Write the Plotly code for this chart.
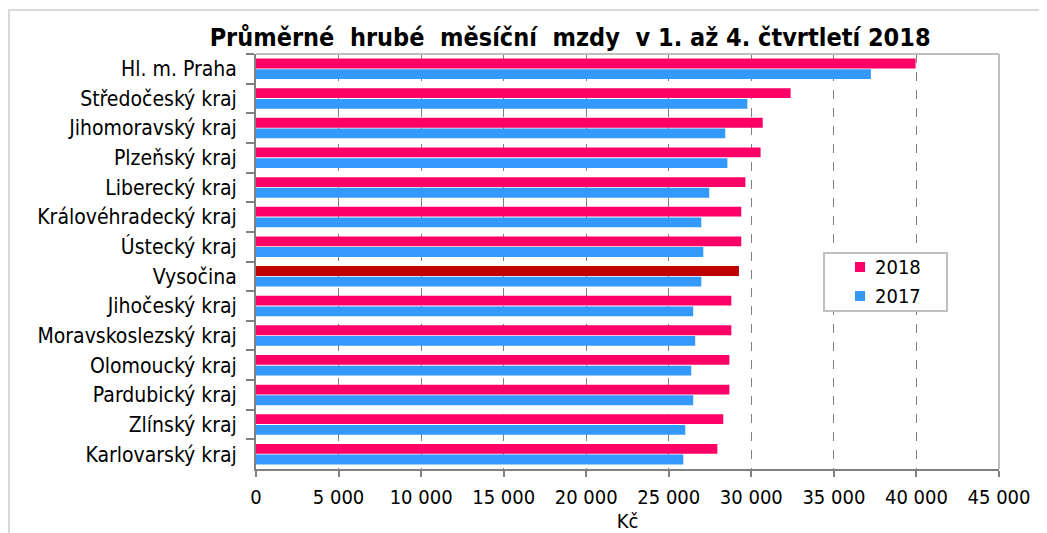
import plotly.graph_objects as go

categories = ["Hl. m. Praha", "Středočeský kraj", "Jihomoravský kraj", "Plzeňský kraj",
              "Liberecký kraj", "Královéhradecký kraj", "Ústecký kraj", "Vysočina",
              "Jihočeský kraj", "Moravskoslezský kraj", "Olomoucký kraj", "Pardubický kraj",
              "Zlínský kraj", "Karlovarský kraj"]
wages_2018 = [39950, 32380, 30690, 30560, 29640, 29390, 29390, 29250,
              28790, 28790, 28670, 28670, 28300, 27940]
wages_2017 = [37240, 29760, 28420, 28550, 27450, 26970, 27090, 26970,
              26480, 26600, 26360, 26480, 26000, 25880]
tick_vals = [0, 5000, 10000, 15000, 20000, 25000, 30000, 35000, 40000, 45000]
tick_text = ["0", "5 000", "10 000", "15 000", "20 000", "25 000", "30 000", "35 000", "40 000", "45 000"]
series_names = ["2018", "2017"]

PINK = "#FF0066"
DARKRED = "#C00000"
BLUE = "#3399FF"
colors_2018 = [DARKRED if c == "Vysočina" else PINK for c in categories]

FONT = "DejaVu Sans Condensed"

fig = go.Figure()
fig.add_trace(go.Bar(y=categories, x=wages_2018, orientation="h", name=series_names[0],
                     marker=dict(color=colors_2018, line=dict(width=0))))
fig.add_trace(go.Bar(y=categories, x=wages_2017, orientation="h", name=series_names[1],
                     marker=dict(color=BLUE, line=dict(width=0))))

fig.update_layout(
    width=1039, height=525,
    margin=dict(l=248, r=48, t=46, b=64, autoexpand=False),
    paper_bgcolor="white", plot_bgcolor="white",
    barmode="group", bargap=0.28, bargroupgap=0.08,
    font=dict(family=FONT, size=20, color="black"),
    title=dict(text="<b>Průměrné  hrubé  měsíční  mzdy  v 1. až 4. čtvrtletí 2018</b>",
               x=0.541, xanchor="center", y=0.945, yanchor="middle",
               font=dict(family=FONT, size=25, color="black")),
    showlegend=False,
    xaxis=dict(range=[0, 45000], tickvals=tick_vals, ticktext=tick_text,
               showgrid=True, gridcolor="#808080", griddash="dash", gridwidth=1,
               showline=True, linecolor="#808080", linewidth=2, mirror=False,
               ticks="outside", ticklen=6, tickcolor="#808080", tickwidth=2,
               zeroline=False, tickfont=dict(size=20), ticklabelstandoff=3,
               automargin=False,
               title=dict(text="Kč", standoff=6, font=dict(size=20))),
    yaxis=dict(autorange="reversed", showline=True, linecolor="#808080", linewidth=2,
               ticks="outside", ticklen=8, tickcolor="#808080", tickwidth=2,
               tickson="boundaries", showgrid=False, tickfont=dict(size=21),
               ticklabelstandoff=13, automargin=False),
)

# plot-area frame (top and right light border)
fig.add_shape(type="line", xref="paper", yref="paper", x0=0, x1=1, y0=1, y1=1,
              line=dict(color="#BFBFBF", width=2))
fig.add_shape(type="line", xref="paper", yref="paper", x0=1, x1=1, y0=0, y1=1,
              line=dict(color="#BFBFBF", width=2))
# outer chart border (extends beyond the visible area)
fig.add_shape(type="rect", xref="paper", yref="paper",
              x0=-247 / 743, x1=1.2, y0=-0.4, y1=1 + 44 / 415,
              line=dict(color="#D9D9D9", width=2), layer="below")

# legend drawn manually to match the original box
fig.add_shape(type="rect", xref="paper", yref="paper",
              x0=0.7645, x1=0.930, y0=0.3807, y1=0.5205,
              line=dict(color="#BFBFBF", width=2), fillcolor="white", layer="above")
legend_items = [(series_names[0], PINK, 0.4988, 0.4747, 0.4867),
                (series_names[1], BLUE, 0.4289, 0.4048, 0.4169)]
for name, col, ytop, ybot, ytxt in legend_items:
    fig.add_shape(type="rect", xref="paper", yref="paper",
                  x0=0.8062, x1=0.8197, y0=ybot, y1=ytop,
                  line=dict(width=0), fillcolor=col, layer="above")
    fig.add_annotation(text=name, xref="paper", yref="paper", x=0.8304, y=ytxt,
                       xanchor="left", yanchor="middle", showarrow=False,
                       font=dict(size=20, family=FONT, color="black"))

fig.write_html("out.html")
